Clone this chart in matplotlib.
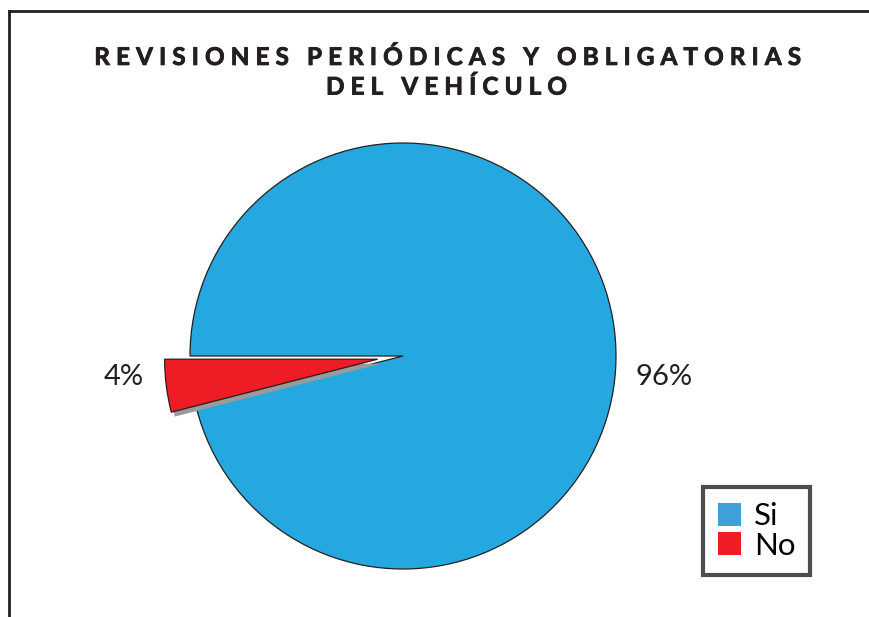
import matplotlib
matplotlib.use("Agg")
import matplotlib.pyplot as plt
from matplotlib.lines import Line2D
from matplotlib.patches import Patch
import matplotlib.patheffects as pe

plt.rcParams["font.family"] = ["Lato", "DejaVu Sans"]

categories = ["Si", "No"]
values = [96, 4]
pct_labels = ["96%", "4%"]
pie_colors = ["#25A8E0", "#EE1C25"]
legend_colors = ["#40A0DA", "#EE1C25"]
title_lines = ["REVISIONES PERIÓDICAS Y OBLIGATORIAS", "DEL VEHÍCULO"]


def spaced(s, gap="\u2009\u2009"):
    # crude letter spacing for the wide title
    return gap.join(s)


def main():
    fig = plt.figure(figsize=(8.69, 6.17), dpi=100)
    W, H = 869, 617
    cx, cy, r = 403, 261, 213  # pie centre / radius in pixels (from bottom)

    ax = fig.add_axes([0, 0, 1, 1])
    wedges, _ = ax.pie(values, colors=pie_colors, startangle=194.4,
                       explode=[0, 0.12], radius=1, center=(0, 0),
                       wedgeprops=dict(edgecolor="#231F20", linewidth=0.9),
                       frame=True)
    ax.axis("off")
    ax.set_aspect("equal")
    ax.set_xlim(-cx / r, (W - cx) / r)
    ax.set_ylim(-cy / r, (H - cy) / r)
    wedges[1].set_path_effects([
        pe.SimplePatchShadow(offset=(2.5, -3.2), shadow_rgbFace="#9A9A9A", alpha=1),
        pe.Normal(),
    ])

    # percentage labels
    ax.text(1.225, -0.10, pct_labels[0], ha="center", va="center",
            fontsize=21, color="#231F20")
    ax.text(-1.31, -0.10, pct_labels[1], ha="center", va="center",
            fontsize=21, color="#231F20")

    t = fig.text(446 / W, 1 - 72 / H, "\n".join(spaced(s) for s in title_lines),
                 ha="center", va="center", fontsize=17.5, fontweight="bold",
                 color="#231F20", linespacing=1.35)
    # fatten the glyphs a little, the original title is very heavy
    t.set_path_effects([pe.withStroke(linewidth=0.6, foreground="#231F20")])

    # outer frame (left and top edges)
    fig.add_artist(Line2D([9 / W, 9 / W], [0, 1 - 11 / H], transform=fig.transFigure,
                          color="#231F20", linewidth=2))
    fig.add_artist(Line2D([9 / W, 1], [1 - 11 / H, 1 - 11 / H], transform=fig.transFigure,
                          color="#231F20", linewidth=2))

    handles = [Patch(facecolor=c, edgecolor="none") for c in legend_colors]
    leg = fig.legend(handles, categories, loc="upper left",
                     bbox_to_anchor=(703 / W, 1 - 487 / H),
                     fontsize=22.5, frameon=True, fancybox=False,
                     handlelength=0.75, handleheight=0.75, handletextpad=0.4,
                     borderpad=0.48, labelspacing=0.05, borderaxespad=0)
    leg.get_frame().set_edgecolor("#231F20")
    leg.get_frame().set_linewidth(3)

    fig.savefig("out.png", dpi=100)


if __name__ == "__main__":
    main()
